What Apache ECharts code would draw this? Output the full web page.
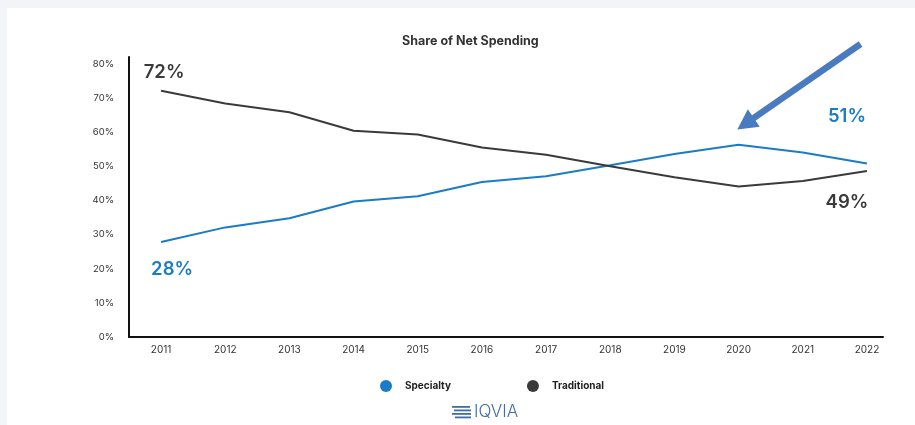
<!DOCTYPE html>
<html>
<head>
<meta charset="utf-8">
<script src="https://cdn.jsdelivr.net/npm/echarts@6/dist/echarts.min.js"></script>
<style>
  html, body { margin:0; padding:0; background:#f2f4f8; }
  #panel { position:absolute; left:7px; top:8px; width:908px; height:417px; background:#ffffff; }
  #chart { position:absolute; left:0; top:0; width:915px; height:425px; }
</style>
</head>
<body>
<div id="panel"></div>
<div id="chart"></div>
<script>
const years = [2011, 2012, 2013, 2014, 2015, 2016, 2017, 2018, 2019, 2020, 2021, 2022];
const specialty = [27.8, 32.1, 34.8, 39.7, 41.2, 45.4, 47.1, 50.3, 53.6, 56.3, 54.0, 50.8];
const traditional = [72.1, 68.4, 65.8, 60.4, 59.3, 55.5, 53.4, 50.0, 46.8, 44.1, 45.7, 48.6];
const seriesNames = ['Specialty', 'Traditional'];
const titleText = 'Share of Net Spending';
// annotation arrow in data coordinates: [year, value] tail -> head
const arrowFrom = [2021.9, 85.8];
const arrowTo = [2019.98, 60.8];

const BLUE = '#1a7cc6';
const DARK = '#3a3a3a';
const ARROW = '#4a7bc0';

function buildData(vals, firstOffset, lastOffset, color) {
  return vals.map((v, i) => {
    const item = { value: [years[i], v] };
    let off = null;
    if (i === 0) off = firstOffset;
    if (i === vals.length - 1) off = lastOffset;
    if (off) {
      item.label = {
        show: true, position: 'inside', offset: off,
        formatter: p => Math.round(p.value[1]) + '%',
        color: color, fontSize: 18.5, fontWeight: 600, fontFamily: 'Inter'
      };
    }
    return item;
  });
}

const chart = echarts.init(document.getElementById('chart'), null, { renderer: 'canvas' });
const baseGraphic = [
  { type: 'rect', left: 452, top: 406, shape: { width: 18, height: 1.8 }, style: { fill: '#3d6fa6' } },
  { type: 'rect', left: 454, top: 409.5, shape: { width: 17, height: 1.8 }, style: { fill: '#3d6fa6' } },
  { type: 'rect', left: 452, top: 413, shape: { width: 19, height: 1.8 }, style: { fill: '#3d6fa6' } },
  { type: 'rect', left: 455, top: 416.5, shape: { width: 16, height: 1.8 }, style: { fill: '#3d6fa6' } },
  { type: 'text', left: 474, top: 403, style: { text: 'IQVIA', fill: '#3d6fa6', font: '300 17px Inter', letterSpacing: 4 } }
];
chart.setOption({
  backgroundColor: 'transparent',
  animation: false,
  title: {
    text: titleText, left: 397, top: 30,
    textStyle: { fontSize: 12.5, fontWeight: 'bold', color: '#333', fontFamily: 'Inter' }
  },
  legend: {
    data: seriesNames, left: 375, top: 375, icon: 'circle',
    itemWidth: 12, itemHeight: 12, itemGap: 76,
    textStyle: { fontSize: 10, fontWeight: 'bold', color: '#222', fontFamily: 'Inter', padding: [0, 0, 0, 8] }
  },
  grid: { left: 129, right: 32, top: 57, bottom: 88, containLabel: false },
  xAxis: {
    type: 'value', min: 2010.5, max: 2022.25, interval: 0.5,
    axisLine: { show: true, lineStyle: { color: '#111', width: 2 } },
    axisTick: { show: false },
    splitLine: { show: false },
    axisLabel: {
      margin: 8, fontSize: 10, color: '#333', fontFamily: 'Inter',
      formatter: v => (Number.isInteger(v) ? String(v) : '')
    }
  },
  yAxis: {
    type: 'value', min: 0, max: 82, interval: 10,
    axisLine: { show: true, lineStyle: { color: '#111', width: 2 } },
    axisTick: { show: false },
    splitLine: { show: false },
    axisLabel: {
      margin: 15, fontSize: 9.5, color: '#333', fontFamily: 'Inter',
      formatter: v => (v % 10 === 0 ? v + '%' : '')
    }
  },
  graphic: baseGraphic,
  series: [
    {
      name: seriesNames[0], type: 'line', clip: false,
      data: buildData(specialty, [11, 27], [-20, -47], BLUE),
      color: BLUE, showSymbol: true, showAllSymbol: true, symbol: 'circle', symbolSize: 0.01,
      lineStyle: { width: 2, color: BLUE }
    },
    {
      name: seriesNames[1], type: 'line', clip: false,
      data: buildData(traditional, [3, -18], [-20, 31], DARK),
      color: DARK, showSymbol: true, showAllSymbol: true, symbol: 'circle', symbolSize: 0.01,
      lineStyle: { width: 2, color: DARK }
    }
  ]
});

// annotation arrow positioned through the chart's own scales
const p1 = chart.convertToPixel({ gridIndex: 0 }, arrowFrom);
const p2 = chart.convertToPixel({ gridIndex: 0 }, arrowTo);
const dx = p2[0] - p1[0], dy = p2[1] - p1[1];
const len = Math.sqrt(dx * dx + dy * dy);
const ux = dx / len, uy = dy / len;
const headLen = 20, headHalf = 10.5;
const base = [p2[0] - ux * headLen, p2[1] - uy * headLen];
const nx = -uy, ny = ux;
chart.setOption({
  graphic: baseGraphic.concat([
    { type: 'line', shape: { x1: p1[0], y1: p1[1], x2: base[0] + ux * 2, y2: base[1] + uy * 2 },
      style: { stroke: ARROW, lineWidth: 6.5 } },
    { type: 'polygon', shape: { points: [
        [p2[0], p2[1]],
        [base[0] + nx * headHalf, base[1] + ny * headHalf],
        [base[0] - nx * headHalf, base[1] - ny * headHalf]
      ] }, style: { fill: ARROW } }
  ])
});
</script>
</body>
</html>
